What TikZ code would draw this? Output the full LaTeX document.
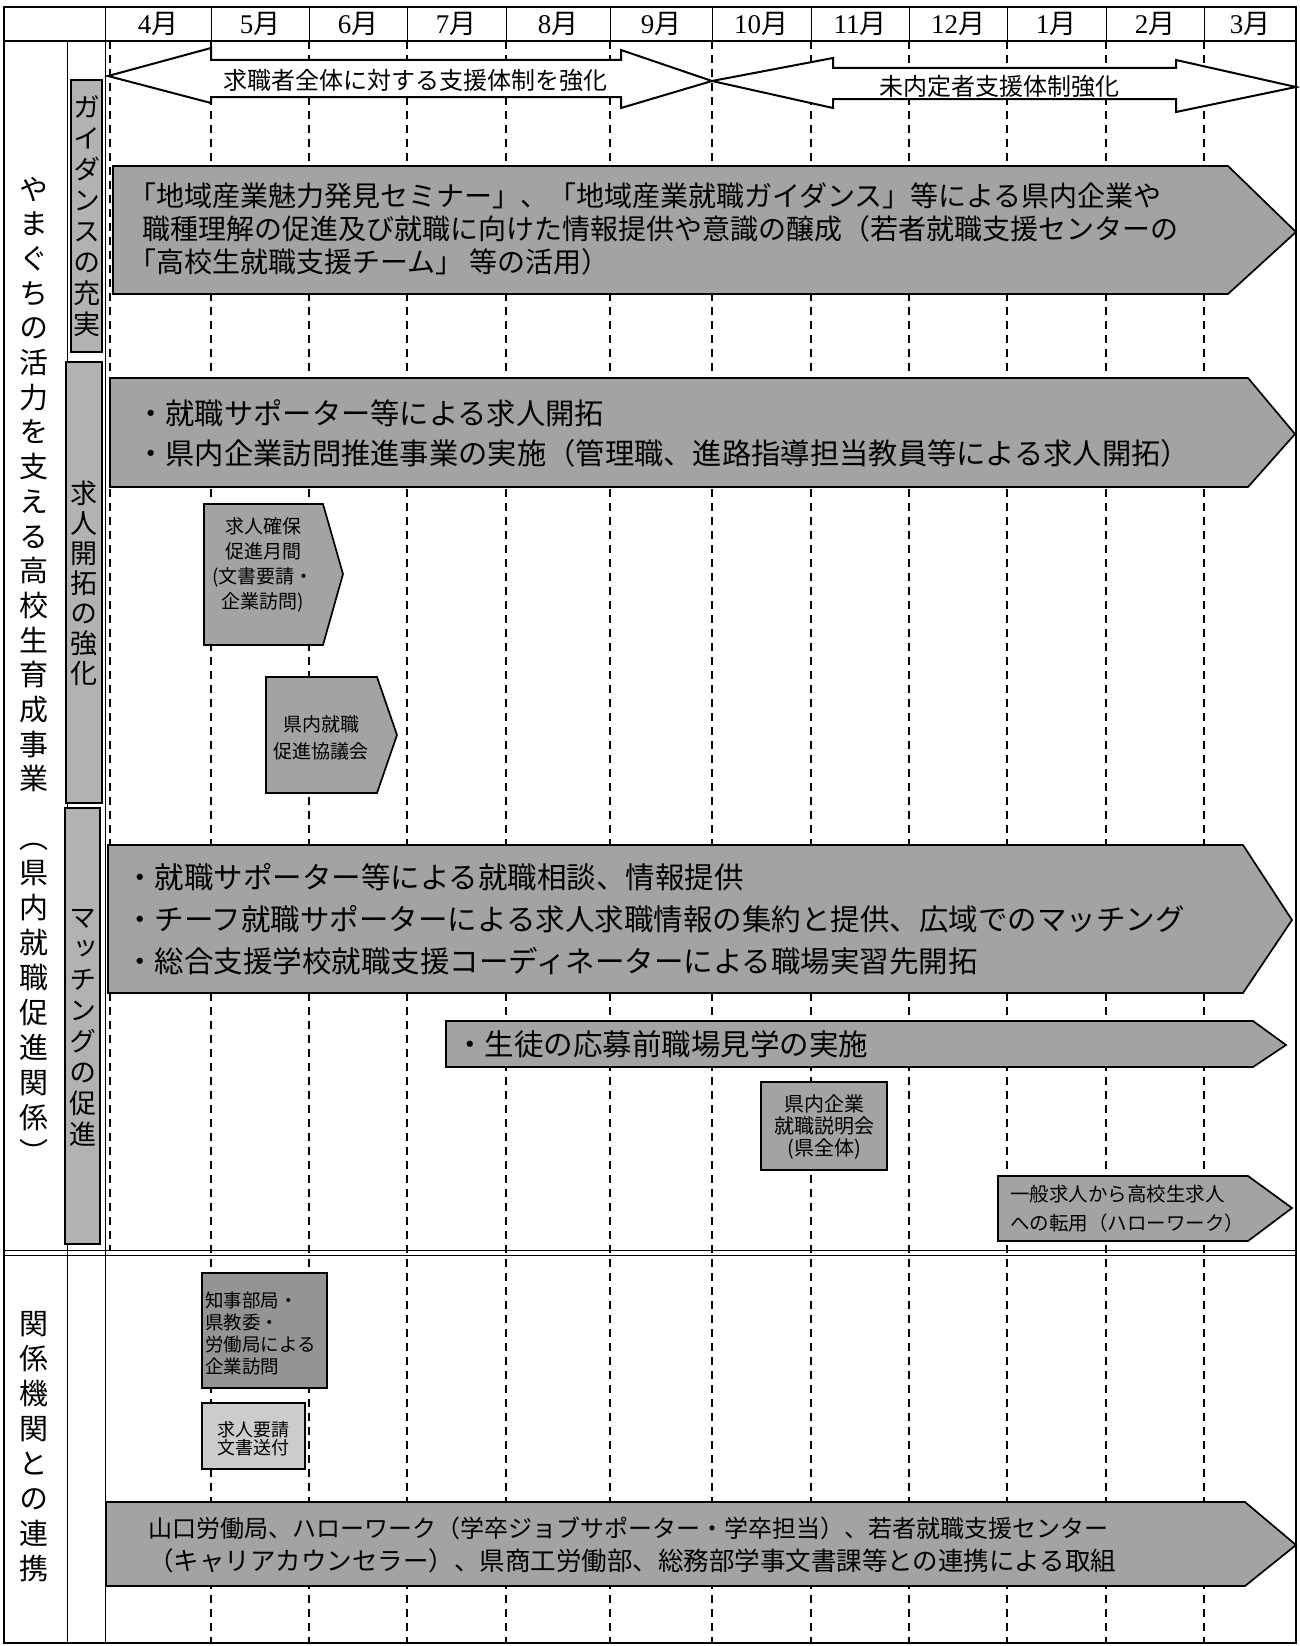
\documentclass[tikz,border=0pt]{standalone}
\usepackage{fontspec}
\setmainfont{Liberation Serif}
\newfontfamily\jp{Noto Sans CJK JP}
\newfontfamily\jpv[RawFeature=+vert]{Noto Sans CJK JP}
\newfontfamily\ser{Liberation Serif}
\definecolor{boxg}{gray}{0.64}
\definecolor{subg}{gray}{0.70}
\definecolor{darkg}{gray}{0.58}
\definecolor{lightg}{gray}{0.80}
\newdimen\vpitch
\makeatletter
\newcommand\vstack[1]{\vbox{\offinterlineskip\vstack@#1\relax}}
\def\vstack@#1{\ifx\relax#1\else\vbox to\vpitch{\vss\hbox to 1em{\hss\vrule height .88em depth .12em width 0pt\relax#1\hss}\vss}\expandafter\vstack@\fi}
\makeatother
\begin{document}
\begin{tikzpicture}[x=1pt,y=-1pt,
  frame/.style={line width=2.4pt},
  thinrule/.style={line width=0.9pt},
  mdash/.style={line width=1.1pt, dash pattern=on 8pt off 6pt},
  pent/.style={draw, line width=1.7pt, fill=boxg, line join=miter},
  subbox/.style={draw, line width=1.4pt, fill=subg},
  dbl/.style={draw, line width=2pt, fill=white, line join=miter},
  mon/.style={inner sep=0pt, font=\fontsize{27}{27}\selectfont},
  arrtxt/.style={inner sep=0pt, font=\jp\fontsize{24}{24}\selectfont},
  vlab/.style={inner sep=0pt, font=\jpv\fontsize{27}{27}\selectfont},
  llab/.style={inner sep=0pt, font=\jpv\fontsize{29}{29}\selectfont},
  btxt/.style={inner sep=0pt, anchor=west, font=\jp\fontsize{#1}{#1}\selectfont},
  stxt/.style={inner sep=0pt, align=center, font=\jp\fontsize{19}{25}\selectfont}
]
\useasboundingbox (0,0) rectangle (1300,1646);
\fill[white] (0,0) rectangle (1300,1646);

% dashed month lines
\draw[mdash] (110,41) -- (110,1250);
\foreach \x in {211,309,407,506,610,712,811,909,1007,1106,1204}
  \draw[mdash] (\x,41) -- (\x,1643);
% solid vertical lines
\draw[thinrule] (67,41) -- (67,1643);
\draw[thinrule] (105,41) -- (105,1643);
% header separators
\foreach \x in {105,211,309,407,506,610,712,811,909,1007,1106,1204}
  \draw[thinrule] (\x,7) -- (\x,41);
% double separator
\draw[line width=1pt] (4,1250) -- (1296,1250);
\draw[line width=1pt] (4,1255) -- (1296,1255);
% frame
\draw[frame] (4,7) rectangle (1296,1643);
\draw[frame] (4,41) -- (1296,41);

% month labels
\node[mon] (m4) at (158,24) {{\ser 4}{\jp 月}};
\node[mon] (m5) at (260,24) {{\ser 5}{\jp 月}};
\node[mon] (m6) at (358,24) {{\ser 6}{\jp 月}};
\node[mon] (m7) at (456,24) {{\ser 7}{\jp 月}};
\node[mon] (m8) at (558,24) {{\ser 8}{\jp 月}};
\node[mon] (m9) at (661,24) {{\ser 9}{\jp 月}};
\node[mon] (m10) at (761,24) {{\ser 10}{\jp 月}};
\node[mon] (m11) at (860,24) {{\ser 11}{\jp 月}};
\node[mon] (m12) at (958,24) {{\ser 12}{\jp 月}};
\node[mon] (m1) at (1056,24) {{\ser 1}{\jp 月}};
\node[mon] (m2) at (1155,24) {{\ser 2}{\jp 月}};
\node[mon] (m3) at (1250,24) {{\ser 3}{\jp 月}};

% double arrows
\draw[dbl] (108,76) -- (211,48) -- (211,60) -- (621,60) -- (621,50) -- (712,81)
  -- (621,108) -- (621,97) -- (211,97) -- (211,103) -- cycle;
\draw[dbl] (712,81) -- (833,58) -- (833,68) -- (1176,68) -- (1176,60) -- (1296,87)
  -- (1176,112) -- (1176,99) -- (833,99) -- (833,108) -- cycle;
\node[arrtxt] (a1t) at (415,80) {求職者全体に対する支援体制を強化};
\node[arrtxt] (a2t) at (999,86) {未内定者支援体制強化};

% left column labels
\node[llab] (L1) at (34,484) {\vpitch=34.7pt\vstack{やまぐちの活力を支える高校生育成事業}};
\node[llab] (L2) at (34,995) {\vpitch=35pt\vstack{（県内就職促進関係）}};
\node[llab] (L3) at (34,1446) {\vpitch=35pt\vstack{関係機関との連携}};

% sub-category boxes
\draw[subbox] (71,80) rectangle (102,352);
\node[vlab] (s1) at (86.5,216) {\vpitch=31pt\vstack{ガイダンスの充実}};
\draw[subbox] (66,362) rectangle (102,803);
\node[vlab] (s2) at (84,583) {\vpitch=30pt\vstack{求人開拓の強化}};
\draw[subbox] (65,808) rectangle (100,1244);
\node[vlab] (s3) at (82.5,1026) {\vpitch=31pt\vstack{マッチングの促進}};

% P1 guidance
\draw[pent] (113,166) -- (1228,166) -- (1296,232) -- (1228,294) -- (113,294) -- cycle;
\node[btxt=28] (p1a) at (128,196) {「地域産業魅力発見セミナー」、「地域産業就職ガイダンス」等による県内企業や};
\node[btxt=28] (p1b) at (142,229) {職種理解の促進及び就職に向けた情報提供や意識の醸成（若者就職支援センターの};
\node[btxt=28] (p1c) at (128,262) {「高校生就職支援チーム」 等の活用）};

% P2
\draw[pent] (110,378) -- (1248,378) -- (1295,434) -- (1248,487) -- (110,487) -- cycle;
\node[btxt=29.3] (p2a) at (136,413) {・就職サポーター等による求人開拓};
\node[btxt=29.3] (p2b) at (136,453) {・県内企業訪問推進事業の実施（管理職、進路指導担当教員等による求人開拓）};

% P3
\draw[pent] (204,504) -- (323,504) -- (343,574) -- (323,645) -- (204,645) -- cycle;
\node[stxt] (p3) at (263,565) {求人確保\\促進月間\\(文書要請・\\企業訪問)};

% P4
\draw[pent] (266,677) -- (377,677) -- (397,735) -- (377,793) -- (266,793) -- cycle;
\node[stxt, font=\jp\fontsize{19}{27}\selectfont] (p4) at (321,738) {県内就職\\促進協議会};

% P5
\draw[pent] (108,845) -- (1243,845) -- (1292,920) -- (1243,993) -- (108,993) -- cycle;
\node[btxt=29.5] (p5a) at (125,877) {・就職サポーター等による就職相談、情報提供};
\node[btxt=29.5] (p5b) at (125,919) {・チーフ就職サポーターによる求人求職情報の集約と提供、広域でのマッチング};
\node[btxt=29.5] (p5c) at (125,961) {・総合支援学校就職支援コーディネーターによる職場実習先開拓};

% P6
\draw[pent] (446,1021) -- (1253,1021) -- (1286,1045) -- (1253,1067) -- (446,1067) -- cycle;
\node[btxt=29.5] (p6) at (455,1044) {・生徒の応募前職場見学の実施};

% P7
\draw[pent] (761,1082) rectangle (887,1170);
\node[stxt, font=\jp\fontsize{20}{22}\selectfont] (p7) at (824,1127) {県内企業\\就職説明会\\(県全体)};

% P8
\draw[pent] (998,1176) -- (1248,1176) -- (1292,1208) -- (1248,1241) -- (998,1241) -- cycle;
\node[stxt, anchor=west, align=left, font=\jp\fontsize{19.5}{29}\selectfont] (p8) at (1010,1209) {一般求人から高校生求人\\への転用（ハローワーク）};

% P9
\draw[pent, fill=darkg] (202,1273) rectangle (327,1388);
\node[stxt, anchor=west, align=left, font=\jp\fontsize{18.5}{22}\selectfont] (p9) at (205,1333) {知事部局・\\県教委・\\労働局による\\企業訪問};

% P10
\draw[pent, fill=lightg, line width=2.2pt] (202,1403) rectangle (305,1469);
\node[stxt, font=\jp\fontsize{18}{18}\selectfont] (p10) at (253,1439) {求人要請\\文書送付};

% P11
\draw[pent] (106,1502) -- (1245,1502) -- (1296,1545) -- (1245,1586) -- (106,1586) -- cycle;
\node[btxt=24] (p11a) at (148,1528) {山口労働局、ハローワーク（学卒ジョブサポーター・学卒担当）、若者就職支援センター};
\node[btxt=25.5] (p11b) at (148,1561) {（キャリアカウンセラー）、県商工労働部、総務部学事文書課等との連携による取組};
\end{tikzpicture}
\end{document}
